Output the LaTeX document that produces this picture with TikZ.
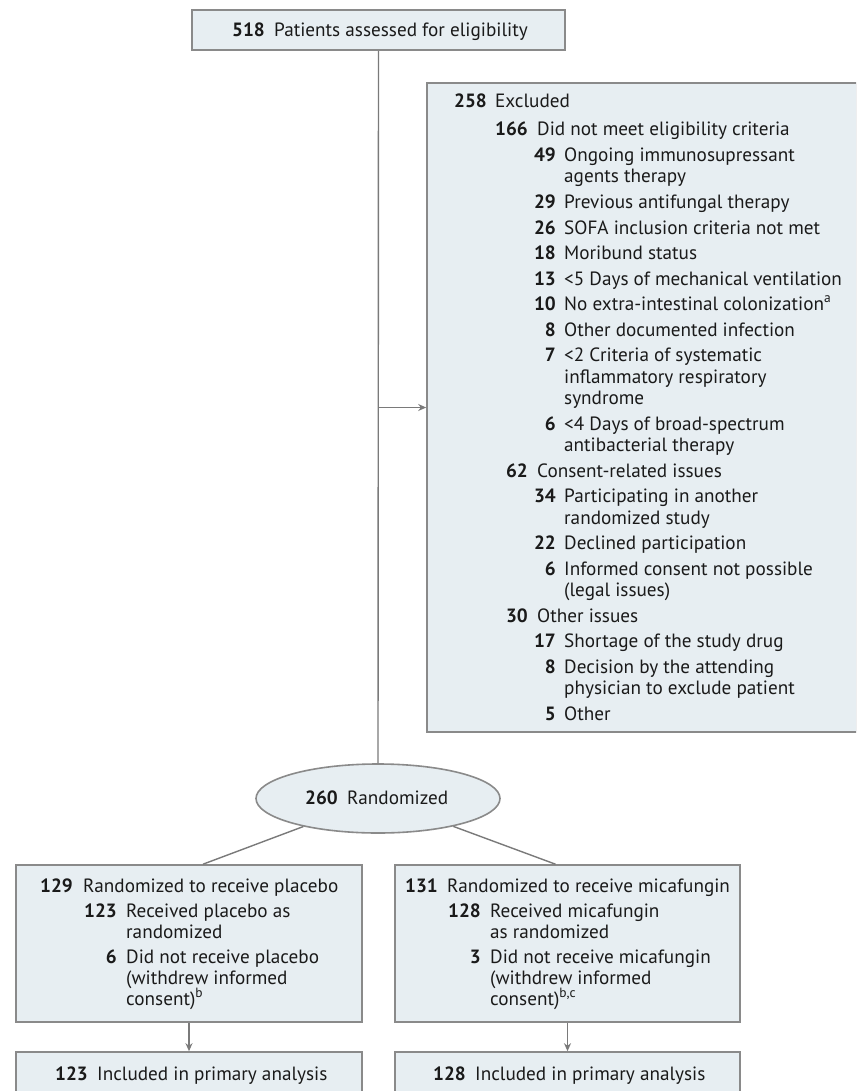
\documentclass[tikz,border=0pt]{standalone}
\usepackage{fontspec}
\setmainfont{PT Sans}
\usetikzlibrary{arrows.meta,shapes.geometric,calc}
\definecolor{boxfill}{HTML}{E7EEF2}
\definecolor{boxline}{HTML}{8A8A8A}
\definecolor{connline}{HTML}{7A7A7A}
\definecolor{txt}{HTML}{1A1A1A}
\tikzset{
  box/.style={draw=boxline, fill=boxfill, line width=1.6pt, inner sep=0pt, rectangle},
  oval/.style={draw=boxline, fill=boxfill, line width=1.6pt, inner sep=0pt, ellipse},
  conn/.style={draw=connline, line width=1.4pt},
  arr/.style={-{Stealth[length=8pt,width=7pt]}},
  num/.style={anchor=base east, inner sep=0pt, text=txt, font=\fontsize{19.2}{22}\selectfont\bfseries},
  lbl/.style={anchor=base west, inner sep=0pt, text=txt, font=\fontsize{19.2}{22}\selectfont},
}
\begin{document}
\begin{tikzpicture}[x=1pt,y=-1pt]
\clip (0,0) rectangle (856,1091);
\fill[white] (0,0) rectangle (856,1091);
% boxes
\node[box, minimum width=373pt, minimum height=40pt] (elig) at (378.5,30) {};
\node[box, minimum width=430pt, minimum height=649pt] (excl) at (642,407.5) {};
\node[oval, minimum width=244pt, minimum height=69pt] (rand) at (378,798.5) {};
\node[box, minimum width=346pt, minimum height=157pt] (plac) at (189,943.5) {};
\node[box, minimum width=345pt, minimum height=157pt] (mica) at (567.5,943.5) {};
\node[box, minimum width=346pt, minimum height=80pt] (plana) at (189,1092) {};
\node[box, minimum width=345pt, minimum height=80pt] (micaa) at (567.5,1092) {};
% connectors
\draw[conn] (elig.south) -- (rand.north);
\coordinate (branch) at (elig.south |- excl.west);
\draw[conn,arr] (branch) -- (excl.west);
\coordinate (pltop) at ($(plac.north)+(14,0)$);
\coordinate (mitop) at ($(mica.north)+(-12,0)$);
\draw[conn] (rand) -- (pltop);
\draw[conn] (rand) -- (mitop);
\draw[conn,arr] (plac.south) -- (plana.north);
\draw[conn,arr] (mica.south) -- (micaa.north);
% top
\node[num] (n518) at (265,37) {518};
\node[lbl] (t518) at (274,37) {Patients assessed for eligibility};
% ellipse
\node[num] (n260) at (338,804) {260};
\node[lbl] (t260) at (347,804) {Randomized};
% excluded numbers
\foreach \yy/\xx/\nn [count=\i] in {108/487/258, 136/528/166, 161.5/556/49, 208.5/556/29, 234/556/26,
  259.5/556/18, 285/556/13, 310.5/556/10, 336/556/8, 361.5/556/7, 430/556/6, 477/528/62,
  502.5/556/34, 549.5/556/22, 575/556/6, 622/528/30, 647.5/556/17, 673/556/8, 720/556/5}
  \node[num] (exn\i) at (\xx,\yy) {\nn};
% excluded texts
\foreach \yy/\xx/\tt [count=\i] in {108/495/Excluded, 136/537/Did not meet eligibility criteria,
  161.5/564/Ongoing immunosupressant, 183/564/agents therapy, 208.5/564/Previous antifungal therapy,
  234/564/SOFA inclusion criteria not met, 259.5/564/Moribund status,
  285/564/<5 Days of mechanical ventilation, 310.5/564/No extra-intestinal colonization\textsuperscript{a},
  336/564/Other documented infection, 361.5/564/<2 Criteria of systematic,
  383/564/inflammatory respiratory, 404.5/564/syndrome, 430/564/<4 Days of broad-spectrum,
  451.5/564/antibacterial therapy, 477/537/Consent-related issues, 502.5/564/Participating in another,
  524/564/randomized study, 549.5/564/Declined participation, 575/564/Informed consent not possible,
  596.5/564/(legal issues), 622/537/Other issues, 647.5/564/Shortage of the study drug,
  673/564/Decision by the attending, 694.5/564/physician to exclude patient, 720/564/Other}
  \node[lbl] (ext\i) at (\xx,\yy) {\tt};
% placebo box
\node[num] (pn1) at (73,892) {129};
\node[lbl] (pt1) at (83,892) {Randomized to receive placebo};
\node[num] (pn2) at (117,917) {123};
\node[lbl] (pt2) at (126,917) {Received placebo as};
\node[lbl] (pt3) at (126,938) {randomized};
\node[num] (pn3) at (117,963) {6};
\node[lbl] (pt4) at (126,963) {Did not receive placebo};
\node[lbl] (pt5) at (126,984) {(withdrew informed};
\node[lbl] (pt6) at (126,1005) {consent)\textsuperscript{b}};
% micafungin box
\node[num] (mn1) at (438,892) {131};
\node[lbl] (mt1) at (447,892) {Randomized to receive micafungin};
\node[num] (mn2) at (481,917) {128};
\node[lbl] (mt2) at (490,917) {Received micafungin};
\node[lbl] (mt3) at (490,938) {as randomized};
\node[num] (mn3) at (481,963) {3};
\node[lbl] (mt4) at (490,963) {Did not receive micafungin};
\node[lbl] (mt5) at (490,984) {(withdrew informed};
\node[lbl] (mt6) at (490,1005) {consent)\textsuperscript{b,c}};
% analysis boxes
\node[num] (an1) at (88,1080) {123};
\node[lbl] (at1) at (97,1080) {Included in primary analysis};
\node[num] (an2) at (466,1080) {128};
\node[lbl] (at2) at (475,1080) {Included in primary analysis};
\end{tikzpicture}
\end{document}
